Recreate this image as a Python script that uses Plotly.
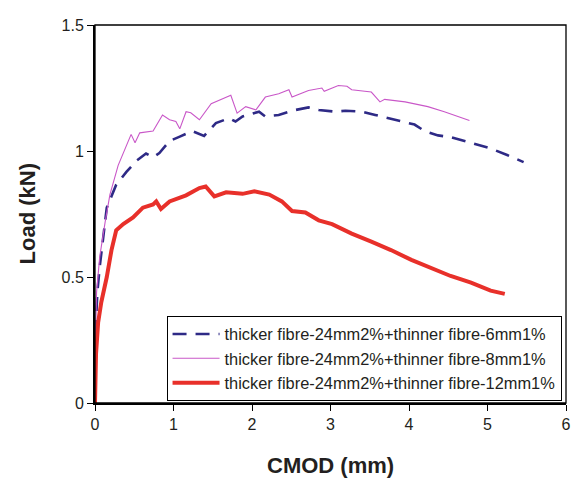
import plotly.graph_objects as go

# ---- data ----
x_6mm = [0, 0.005, 0.02, 0.03, 0.06, 0.105, 0.15, 0.21, 0.27, 0.40, 0.53, 0.65, 0.74, 0.82, 0.95,
         1.08, 1.24, 1.39, 1.54, 1.71, 1.79, 1.88, 2.09, 2.17, 2.34, 2.51, 2.72, 2.85, 3.06, 3.19,
         3.40, 3.57, 3.78, 3.88, 4.07, 4.20, 4.37, 4.53, 4.70, 4.87, 5.04, 5.25, 5.46]
y_6mm = [0, 0.22, 0.37, 0.44, 0.54, 0.66, 0.775, 0.82, 0.866, 0.917, 0.962, 0.99, 0.975, 0.992, 1.04,
         1.057, 1.079, 1.06, 1.111, 1.13, 1.117, 1.137, 1.156, 1.137, 1.143, 1.16, 1.173, 1.163, 1.156, 1.16,
         1.156, 1.143, 1.127, 1.121, 1.105, 1.079, 1.062, 1.055, 1.04, 1.027, 1.01, 0.984, 0.956]

x_8mm = [0, 0.005, 0.02, 0.06, 0.13, 0.19, 0.295, 0.38, 0.46, 0.51, 0.57, 0.74, 0.86, 0.95, 1.03,
         1.08, 1.16, 1.22, 1.33, 1.48, 1.58, 1.73, 1.81, 1.92, 2.05, 2.17, 2.34, 2.47, 2.51, 2.72,
         2.89, 2.92, 3.10, 3.21, 3.27, 3.52, 3.63, 3.69, 3.95, 4.24, 4.45, 4.62, 4.77]
y_8mm = [0, 0.25, 0.44, 0.58, 0.72, 0.827, 0.943, 1.008, 1.066, 1.033, 1.072, 1.079, 1.143, 1.124, 1.117,
         1.088, 1.156, 1.152, 1.124, 1.188, 1.20, 1.221, 1.15, 1.176, 1.163, 1.214, 1.227, 1.243, 1.214, 1.24,
         1.25, 1.237, 1.26, 1.257, 1.243, 1.234, 1.195, 1.205, 1.195, 1.176, 1.156, 1.137, 1.121]

x_12mm = [0, 0.005, 0.013, 0.04, 0.08, 0.15, 0.21, 0.27, 0.36, 0.485, 0.61, 0.74, 0.78, 0.84, 0.95,
          1.16, 1.33, 1.41, 1.52, 1.67, 1.88, 2.03, 2.22, 2.38, 2.51, 2.68, 2.85, 3.02, 3.27, 3.52,
          3.77, 4.03, 4.28, 4.53, 4.79, 5.04, 5.22]
y_12mm = [0, 0.18, 0.195, 0.32, 0.40, 0.50, 0.607, 0.685, 0.71, 0.736, 0.775, 0.788, 0.80, 0.77, 0.80,
          0.824, 0.853, 0.859, 0.82, 0.836, 0.83, 0.84, 0.827, 0.80, 0.762, 0.756, 0.725, 0.71, 0.672, 0.64,
          0.607, 0.568, 0.536, 0.504, 0.478, 0.446, 0.433]

names = ["thicker fibre-24mm2%+thinner fibre-6mm1%",
         "thicker fibre-24mm2%+thinner fibre-8mm1%",
         "thicker fibre-24mm2%+thinner fibre-12mm1%"]
x_ticks = [0, 1, 2, 3, 4, 5, 6]
y_ticks = [0, 0.5, 1, 1.5]
y_tick_text = ["0", "0.5", "1", "1.5"]

FONT = "Liberation Sans, Arial, sans-serif"

# page body has an 8px default margin; size the figure so it fits the 580x478 window
W, H = 572, 470
ML, MR, MT, MB = 87, 11, 9, 75
pw, ph = W - ML - MR, H - MT - MB

fig = go.Figure()
fig.add_trace(go.Scatter(x=x_6mm, y=y_6mm, mode="lines", name=names[0],
                         line=dict(color="#2E2A86", width=2.6, dash="14px,9px")))
fig.add_trace(go.Scatter(x=x_8mm, y=y_8mm, mode="lines", name=names[1],
                         line=dict(color="#C957C8", width=1.1)))
fig.add_trace(go.Scatter(x=x_12mm, y=y_12mm, mode="lines", name=names[2],
                         line=dict(color="#E8302A", width=4)))

fig.update_layout(
    width=W, height=H,
    margin=dict(l=ML, r=MR, t=MT, b=MB),
    paper_bgcolor="white", plot_bgcolor="white",
    font=dict(family=FONT, size=16, color="#231F20"),
    showlegend=True,
    legend=dict(x=(167 - 95) / pw, y=(403 - 314) / ph, xanchor="left", yanchor="top",
                bordercolor="black", borderwidth=1, bgcolor="white",
                font=dict(size=16.4, color="#231F20"), itemwidth=47,
                tracegroupgap=0),
    xaxis=dict(range=[0, 6], tickvals=x_ticks, showgrid=False, zeroline=False,
               showline=True, linecolor="black", linewidth=2,
               ticks="outside", ticklen=6, tickcolor="black", tickwidth=1,
               tickfont=dict(size=16)),
    yaxis=dict(range=[0, 1.5], tickvals=y_ticks, ticktext=y_tick_text, showgrid=False, zeroline=False,
               showline=True, linecolor="black", linewidth=2,
               ticks="outside", ticklen=6, tickcolor="black", tickwidth=1,
               tickfont=dict(size=16)),
    annotations=[
        dict(text="<b>CMOD (mm)</b>", x=0.5, y=(403 - 467) / ph, xref="paper", yref="paper",
             xanchor="center", yanchor="middle",
             showarrow=False, font=dict(size=22, color="#231F20")),
        dict(text="<b>Load (kN)</b>", x=(27 - 95) / pw, y=0.5, xref="paper", yref="paper",
             xanchor="center", yanchor="middle",
             showarrow=False, textangle=-90, font=dict(size=22, color="#231F20")),
    ],
    shapes=[dict(type="rect", xref="paper", yref="paper", x0=0, y0=0, x1=1, y1=1,
                 line=dict(color="black", width=1.3))],
)

fig.write_html("out.html")
